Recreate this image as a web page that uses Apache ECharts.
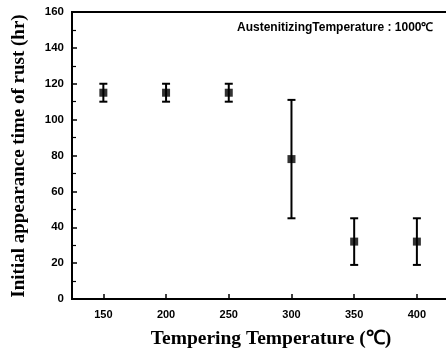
<!DOCTYPE html>
<html><head><meta charset="utf-8">
<script src="https://cdn.jsdelivr.net/npm/echarts@6/dist/echarts.min.js"></script>
<style>html,body{margin:0;padding:0;background:#fff}#c{width:446px;height:354px}</style>
</head><body><div id="c"></div>
<script>
const temps = [150, 200, 250, 300, 350, 400];
const means = [115, 115, 115, 78, 32, 32];
const lows  = [110, 110, 110, 45, 19, 19];
const highs = [120, 120, 120, 111, 45, 45];
const xTicks = [150, 200, 250, 300, 350, 400];
const yTicks = [0, 20, 40, 60, 80, 100, 120, 140, 160];
const annotation = 'AustenitizingTemperature : 1000\u2103';
const xTitle = 'Tempering Temperature (\u2103)';
const yTitle = 'Initial appearance time of rust (hr)';

const chart = echarts.init(document.getElementById('c'));
const errData = temps.map((t, i) => [t, lows[i], highs[i]]);
chart.setOption({
  animation: false,
  grid: { left: 72, top: 12, width: 380, height: 287, show: true, borderColor: '#000', borderWidth: 2,
    containLabel: false, outerBoundsMode: 'none' },
  xAxis: {
    type: 'value', min: 125, max: 428,
    axisLine: { lineStyle: { color: '#000', width: 2 } },
    axisTick: { inside: true, length: 5, lineStyle: { color: '#000', width: 1.5 },
      customValues: xTicks },
    axisLabel: { color: '#000', fontFamily: 'Liberation Sans, Arial', fontWeight: 'bold', fontSize: 11, margin: 10,
      customValues: xTicks },
    splitLine: { show: false }
  },
  yAxis: {
    type: 'value', min: 0, max: 160, interval: 20,
    axisLine: { lineStyle: { color: '#000', width: 2 } },
    axisTick: { inside: true, length: 5, lineStyle: { color: '#000', width: 1.5 } },
    minorTick: { show: true, splitNumber: 2, length: 4, lineStyle: { color: '#000', width: 1.2 } },
    axisLabel: { color: '#000', fontFamily: 'Liberation Sans, Arial', fontWeight: 'bold', fontSize: 11.5, margin: 8 },
    splitLine: { show: false }
  },
  graphic: [{
    type: 'text', x: 237, y: 28,
    style: { text: annotation, fill: '#000', font: 'bold 12px Liberation Sans, Arial', verticalAlign: 'middle' }
  }, {
    type: 'text', x: 271, y: 339,
    style: { text: xTitle, fill: '#000', font: 'bold 19.5px Liberation Serif, Times New Roman', align: 'center', verticalAlign: 'middle' }
  }, {
    type: 'text', x: 19, y: 156, rotation: Math.PI / 2,
    style: { text: yTitle, fill: '#000', font: 'bold 19px Liberation Serif, Times New Roman', align: 'center', verticalAlign: 'middle' }
  }],
  series: [
    {
      type: 'custom',
      data: errData,
      renderItem: function (params, api) {
        const x = api.value(0);
        const lo = api.coord([x, api.value(1)]);
        const hi = api.coord([x, api.value(2)]);
        const w = 4;
        const st = { stroke: '#000', lineWidth: 2 };
        return { type: 'group', children: [
          { type: 'line', shape: { x1: lo[0], y1: lo[1], x2: hi[0], y2: hi[1] }, style: st },
          { type: 'line', shape: { x1: lo[0] - w, y1: lo[1], x2: lo[0] + w, y2: lo[1] }, style: st },
          { type: 'line', shape: { x1: hi[0] - w, y1: hi[1], x2: hi[0] + w, y2: hi[1] }, style: st }
        ]};
      },
      z: 2
    },
    {
      type: 'scatter', symbol: 'rect', symbolSize: 8,
      itemStyle: { color: '#000' },
      data: temps.map((t, i) => [t, means[i]]),
      z: 3
    }
  ]
});
</script></body></html>
